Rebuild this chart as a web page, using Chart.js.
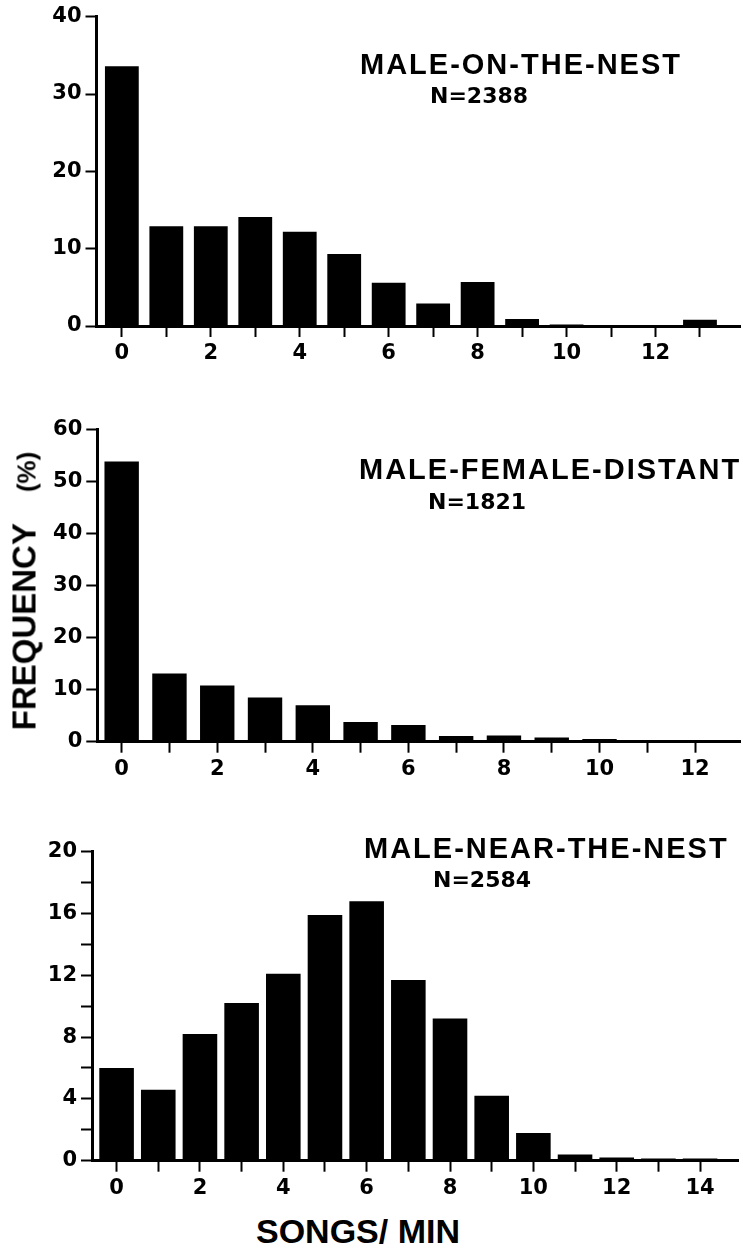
<!DOCTYPE html>
<html>
<head>
<meta charset="utf-8">
<script src="https://cdn.jsdelivr.net/npm/chart.js@4.4.1/dist/chart.umd.min.js"></script>
<style>
  body { margin: 0; background: #fff; width: 743px; height: 1248px; position: relative; overflow: hidden;
         font-family: "Liberation Sans", Arial, sans-serif; }
  .panel { position: absolute; left: 0; width: 743px; }
  .txt { position: absolute; font-weight: bold; color: #000; white-space: nowrap; line-height: 1; }
  .title { font-size: 29px; letter-spacing: 2px; }
  .n { font-family: "DejaVu Sans", sans-serif; font-size: 22px; }
  #ylab { left: 24px; top: 591px; font-size: 33px; transform: translate(-50%, -50%) rotate(-90deg); }
  #ylab .pct { font-size: 26px; margin-left: 31px; }
  #xlab { left: 358px; top: 1214px; font-size: 34px; transform: translateX(-50%); }
</style>
</head>
<body>

<div class="panel" style="top:0px;height:380px"><canvas id="onNest" width="743" height="380"></canvas></div>
<div class="panel" style="top:410px;height:380px"><canvas id="distant" width="743" height="380"></canvas></div>
<div class="panel" style="top:820px;height:390px"><canvas id="nearNest" width="743" height="390"></canvas></div>

<div class="txt title" style="left:360px;top:50px">MALE-ON-THE-NEST</div>
<div class="txt n" style="left:430px;top:85px">N=2388</div>
<div class="txt title" style="left:359px;top:455px">MALE-FEMALE-DISTANT</div>
<div class="txt n" style="left:428px;top:491px">N=1821</div>
<div class="txt title" style="left:364px;top:834px">MALE-NEAR-THE-NEST</div>
<div class="txt n" style="left:433px;top:869px">N=2584</div>

<div class="txt" id="ylab">FREQUENCY<span class="pct">(%)</span></div>
<div class="txt" id="xlab">SONGS/ MIN</div>

<script>
// Données (fréquence en %, par classe de chants/min)
const songsOnNest = [0, 1, 2, 3, 4, 5, 6, 7, 8, 9, 10, 11, 12, 13];
const freqOnNest = [33.6, 12.9, 12.9, 14.1, 12.2, 9.3, 5.6, 2.9, 5.7, 0.9, 0.2, 0.1, 0.1, 0.8];

const songsDistant = [0, 1, 2, 3, 4, 5, 6, 7, 8, 9, 10, 11, 12];
const freqDistant = [53.8, 13.1, 10.8, 8.5, 7.0, 3.8, 3.2, 1.1, 1.2, 0.8, 0.5, 0.1, 0.1];

const songsNearNest = [0, 1, 2, 3, 4, 5, 6, 7, 8, 9, 10, 11, 12, 13, 14];
const freqNearNest = [6.0, 4.6, 8.2, 10.2, 12.1, 15.9, 16.8, 11.7, 9.2, 4.2, 1.8, 0.4, 0.2, 0.15, 0.15];

// Graduations
const xTicksOnNest = [0, 1, 2, 3, 4, 5, 6, 7, 8, 9, 10, 11, 12, 13];
const xTicksDistant = [0, 1, 2, 3, 4, 5, 6, 7, 8, 9, 10, 11, 12];
const xTicksNearNest = [0, 1, 2, 3, 4, 5, 6, 7, 8, 9, 10, 11, 12, 13, 14];
const xLabelsOnNest = [0, 2, 4, 6, 8, 10, 12];
const xLabelsDistant = [0, 2, 4, 6, 8, 10, 12];
const xLabelsNearNest = [0, 2, 4, 6, 8, 10, 12, 14];

const yTicksOnNest = [0, 10, 20, 30, 40];
const yTicksDistant = [0, 10, 20, 30, 40, 50, 60];
const yTicksNearNest = [0, 2, 4, 6, 8, 10, 12, 14, 16, 18, 20];
const yLabelsOnNest = [0, 10, 20, 30, 40];
const yLabelsDistant = [0, 10, 20, 30, 40, 50, 60];
const yLabelsNearNest = [0, 4, 8, 12, 16, 20];

const tickFont = { family: '"DejaVu Sans", sans-serif', size: 21, weight: 'bold' };

// Crée un histogramme (un panneau)
function makePanel(canvasId, songs, freq, xTicks, xLabels, yTicks, yLabels, geom) {
  const canvas = document.getElementById(canvasId);
  const points = songs.map((s, i) => ({ x: s, y: freq[i] }));

  return new Chart(canvas, {
    type: 'bar',
    data: {
      datasets: [{
        data: points,
        backgroundColor: '#000',
        borderWidth: 0,
        categoryPercentage: 1,
        barPercentage: geom.bar
      }]
    },
    options: {
      responsive: false,
      animation: false,
      devicePixelRatio: 1,
      layout: { padding: { top: geom.top, right: canvas.width - geom.right, left: 0, bottom: 0 } },
      plugins: { legend: { display: false }, tooltip: { enabled: false } },
      scales: {
        x: {
          type: 'linear',
          offset: false,
          min: geom.xMin,
          max: geom.xMax,
          afterBuildTicks: (s) => { s.ticks = xTicks.map(v => ({ value: v })); },
          afterFit: (s) => { s.height = canvas.height - geom.bottom; },
          border: { display: true, color: '#000', width: 3, z: 1 },
          grid: { display: true, offset: false, drawOnChartArea: false, drawTicks: true, tickLength: 11, tickWidth: 2, tickColor: '#000' },
          ticks: {
            autoSkip: false,
            maxRotation: 0,
            padding: 4,
            color: '#000',
            font: tickFont,
            callback: (v) => xLabels.includes(v) ? String(v) : ''
          }
        },
        y: {
          min: 0,
          max: geom.yMax,
          afterBuildTicks: (s) => { s.ticks = yTicks.map(v => ({ value: v })); },
          afterFit: (s) => { s.width = geom.left; },
          border: { display: true, color: '#000', width: 3, z: 1 },
          grid: { display: true, drawOnChartArea: false, drawTicks: true, tickLength: 11, tickWidth: 2, tickColor: '#000' },
          ticks: {
            autoSkip: false,
            padding: 4,
            color: '#000',
            font: tickFont,
            callback: (v) => yLabels.includes(v) ? String(v) : ''
          }
        }
      }
    }
  });
}

makePanel('onNest', songsOnNest, freqOnNest, xTicksOnNest, xLabelsOnNest, yTicksOnNest, yLabelsOnNest,
  { left: 96.5, right: 740, top: 16.7, bottom: 326, xMin: -0.57, xMax: 13.9, yMax: 40, bar: 0.76 });

makePanel('distant', songsDistant, freqDistant, xTicksDistant, xLabelsDistant, yTicksDistant, yLabelsDistant,
  { left: 97.3, right: 740, top: 19.3, bottom: 331.7, xMin: -0.51, xMax: 12.94, yMax: 60, bar: 0.72 });

makePanel('nearNest', songsNearNest, freqNearNest, xTicksNearNest, xLabelsNearNest, yTicksNearNest, yLabelsNearNest,
  { left: 92, right: 738, top: 31.7, bottom: 340.7, xMin: -0.59, xMax: 14.91, yMax: 20, bar: 0.83 });
</script>
</body>
</html>
